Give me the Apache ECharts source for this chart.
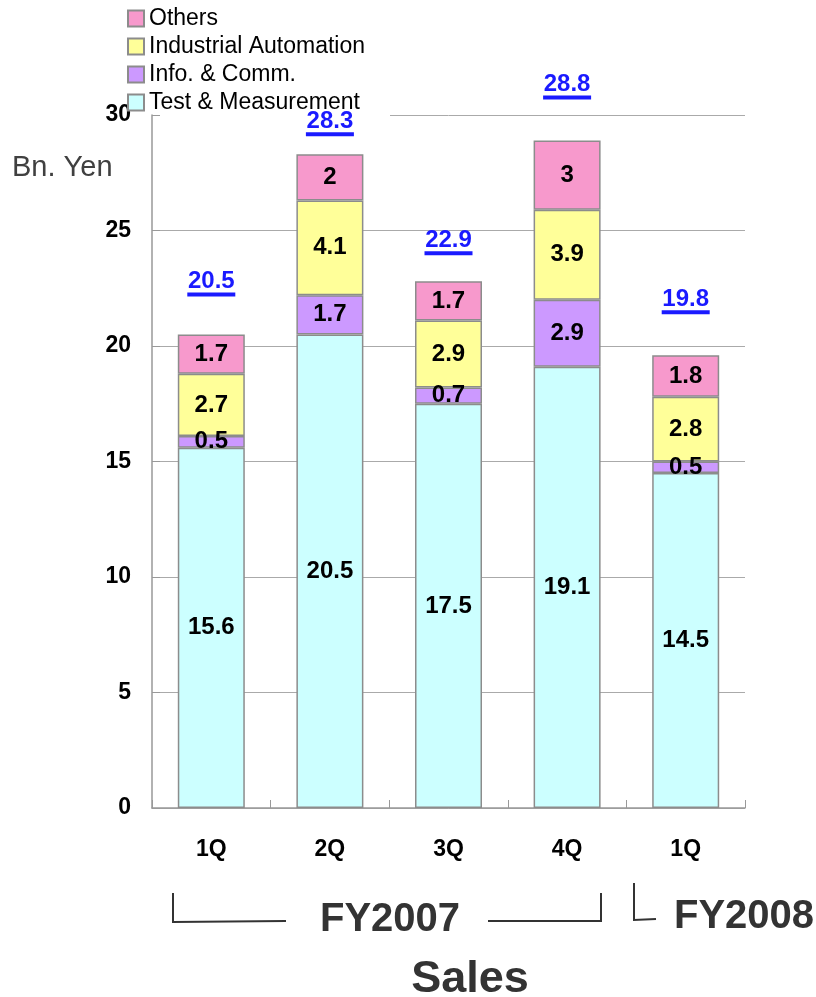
<!DOCTYPE html>
<html>
<head>
<meta charset="utf-8">
<title>Sales</title>
<script src="https://cdn.jsdelivr.net/npm/echarts@6/dist/echarts.min.js"></script>
<style>
  html, body { margin: 0; padding: 0; background: #fff; }
  #chartmain { width: 816px; height: 997px; }
</style>
</head>
<body>
<div id="chartmain"></div>
<script>
// 数据
var quarters = ['1Q', '2Q', '3Q', '4Q', '1Q'];
var testMeas = [15.6, 20.5, 17.5, 19.1, 14.5];
var infoComm = [0.5, 1.7, 0.7, 2.9, 0.5];
var indAuto = [2.7, 4.1, 2.9, 3.9, 2.8];
var others = [1.7, 2, 1.7, 3, 1.8];
var totals = [20.5, 28.3, 22.9, 28.8, 19.8];
var yTicks = [0, 5, 10, 15, 20, 25, 30];

// 合计标签离柱顶的距离(px)
var totalGap = [53, 33, 41, 56, 56];

var FONT = '"Liberation Sans", Arial, sans-serif';

function makeBar(name, data, color) {
  return {
    name: name,
    type: 'bar',
    stack: 'sales',
    barWidth: 67,
    data: data,
    itemStyle: { color: color, borderColor: '#8c8c8c', borderWidth: 1.5 },
    label: {
      show: true,
      position: 'inside',
      color: '#000',
      fontFamily: FONT,
      fontWeight: 'bold',
      fontSize: 24
    }
  };
}

function makeTotals() {
  var pts = [];
  for (var i = 0; i < quarters.length; i++) {
    var top = testMeas[i] + infoComm[i] + indAuto[i] + others[i];
    pts.push({
      value: [i, top],
      name: String(totals[i]),
      symbolOffset: [0, -(totalGap[i] - 13)]
    });
  }
  return {
    name: 'Total',
    type: 'scatter',
    symbol: 'rect',
    symbolSize: [48, 4],
    itemStyle: { color: '#1a1aff', opacity: 1 },
    z: 10,
    label: {
      show: true,
      position: 'inside',
      offset: [0, -13],
      formatter: function (p) { return p.name; },
      color: '#1a1aff',
      fontFamily: FONT,
      fontWeight: 'bold',
      fontSize: 24
    },
    emphasis: { disabled: true },
    data: pts
  };
}

function makeOption() {
  return {
    animation: false,
    backgroundColor: '#fff',
    textStyle: { fontFamily: FONT },
    legend: {
      orient: 'vertical',
      left: 127,
      top: 7,
      padding: 0,
      itemWidth: 16,
      itemHeight: 16,
      itemGap: 5,
      icon: 'rect',
      data: ['Others', 'Industrial Automation', 'Info. & Comm.', 'Test & Measurement'],
      textStyle: { fontFamily: FONT, fontSize: 23, lineHeight: 23, color: '#000' }
    },
    grid: { left: 152, right: 71, top: 115, bottom: 189, containLabel: false },
    xAxis: {
      type: 'category',
      data: quarters,
      axisLine: { lineStyle: { color: '#999', width: 1.5 } },
      axisTick: { show: true, inside: true, length: 8, lineStyle: { color: '#999' } },
      axisLabel: { color: '#000', fontFamily: FONT, fontWeight: 'bold', fontSize: 23, margin: 30 }
    },
    yAxis: {
      type: 'value',
      min: yTicks[0],
      max: yTicks[yTicks.length - 1],
      interval: 5,
      axisLine: { show: true, lineStyle: { color: '#999', width: 1.5 } },
      axisTick: { show: true, inside: true, length: 8, lineStyle: { color: '#999' } },
      splitLine: { lineStyle: { color: '#aaa', width: 1 } },
      axisLabel: { color: '#000', fontFamily: FONT, fontWeight: 'bold', fontSize: 23, margin: 21 }
    },
    series: [
      makeBar('Test & Measurement', testMeas, '#ccffff'),
      makeBar('Info. & Comm.', infoComm, '#cc99ff'),
      makeBar('Industrial Automation', indAuto, '#ffff99'),
      makeBar('Others', others, '#f799cc'),
      makeTotals()
    ],
    graphic: [
      // 图例遮住顶部网格线
      { type: 'rect', z: 1, shape: { x: 160, y: 112, width: 230, height: 6 }, style: { fill: '#fff' } },
      { type: 'text', z: 100, left: 12, top: 153, style: { text: 'Bn. Yen', fontFamily: FONT, fontSize: 29, fill: '#404040' } },
      // FY2007 括号
      { type: 'polyline', z: 100, shape: { points: [[173, 893], [173, 922], [286, 921]] }, style: { stroke: '#333', lineWidth: 2, fill: null } },
      { type: 'polyline', z: 100, shape: { points: [[488, 921], [601, 921], [601, 893]] }, style: { stroke: '#333', lineWidth: 2, fill: null } },
      { type: 'text', z: 100, x: 390, y: 920, style: { text: 'FY2007', fontFamily: FONT, fontWeight: 'bold', fontSize: 40, fill: '#333', align: 'center', verticalAlign: 'middle' } },
      // FY2008 括号
      { type: 'polyline', z: 100, shape: { points: [[634, 883], [634, 920], [656, 919]] }, style: { stroke: '#333', lineWidth: 2, fill: null } },
      { type: 'text', z: 100, x: 744, y: 917, style: { text: 'FY2008', fontFamily: FONT, fontWeight: 'bold', fontSize: 40, fill: '#333', align: 'center', verticalAlign: 'middle' } },
      { type: 'text', z: 100, x: 470, y: 980, style: { text: 'Sales', fontFamily: FONT, fontWeight: 'bold', fontSize: 45, fill: '#333', align: 'center', verticalAlign: 'middle' } }
    ]
  };
}

var myChart = echarts.init(document.getElementById('chartmain'));
myChart.setOption(makeOption());
</script>
</body>
</html>
